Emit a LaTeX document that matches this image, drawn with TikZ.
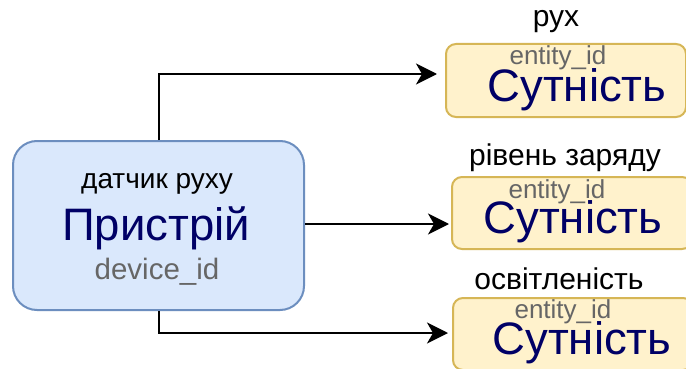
\documentclass[tikz,border=0pt]{standalone}
\usepackage{fontspec}
\setmainfont{Liberation Sans}
\usetikzlibrary{arrows.meta}
\definecolor{devfill}{HTML}{DAE8FC}
\definecolor{devline}{HTML}{6C8EBF}
\definecolor{entfill}{HTML}{FFF2CC}
\definecolor{entline}{HTML}{D6B656}
\definecolor{navy}{HTML}{000066}
\definecolor{idgray}{HTML}{666666}
\begin{document}
\begin{tikzpicture}[x=1pt,y=-1pt,
  devbox/.style={draw=devline, fill=devfill, line width=2pt, rounded corners=24pt, anchor=north west, inner sep=0pt},
  entbox/.style={draw=entline, fill=entfill, line width=2pt, rounded corners=10pt, anchor=north west, inner sep=0pt, minimum width=240pt},
  bigtxt/.style={anchor=base, text=navy, inner sep=0pt, font=\fontsize{45.5}{50}\selectfont},
  idtxt/.style={anchor=base, text=idgray, inner sep=0pt, font=\fontsize{26}{30}\selectfont},
  lbltxt/.style={anchor=base, text=black, inner sep=0pt, font=\fontsize{30}{34}\selectfont},
  arr/.style={draw=black, line width=2pt, -{Stealth[length=21pt, width=21pt, inset=6pt]}}]
\clip (0,0) rectangle (686,369);
\fill[white] (0,0) rectangle (686,369);
% device
\node[devbox, minimum width=291pt, minimum height=169pt] (dev) at (12,140) {};
\node[lbltxt, font=\fontsize{28}{32}\selectfont] (devlbl) at (157,188) {датчик руху};
\node[bigtxt] (devname) at (156,240) {Пристрій};
\node[idtxt, font=\fontsize{29.5}{33}\selectfont] (devid) at (157,279) {device\_id};
% entities
\node[entbox, minimum height=73pt] (e1) at (445,43) {};
\node[entbox, minimum height=72pt] (e2) at (451,176) {};
\node[entbox, minimum height=72pt] (e3) at (452,297) {};
\node[lbltxt] (l1) at (556,27) {рух};
\node[lbltxt] (l2) at (565,165) {рівень заряду};
\node[lbltxt] (l3) at (559,289) {освітленість};
\node[idtxt] (i1) at (558,65) {entity\_id};
\node[idtxt] (i2) at (557,198) {entity\_id};
\node[idtxt] (i3) at (563,318) {entity\_id};
\node[bigtxt] (n1) at (577,102) {Сутність};
\node[bigtxt] (n2) at (573,233) {Сутність};
\node[bigtxt] (n3) at (582,354) {Сутність};
% connectors
\coordinate (t1) at (437,74);
\coordinate (t2) at (449,224);
\coordinate (t3) at (448,333);
\draw[arr] (dev.north) |- (t1);
\draw[arr] (dev.east |- t2) -- (t2);
\draw[arr] (dev.south) |- (t3);
\end{tikzpicture}
\end{document}
